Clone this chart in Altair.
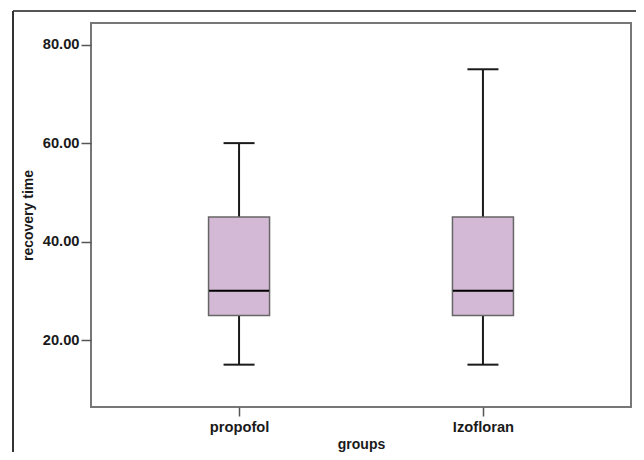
import altair as alt
import pandas as pd

groups = ["propofol", "Izofloran"]
minimum = [15, 15]
q1 = [25, 25]
median = [30, 30]
q3 = [45, 45]
maximum = [60, 75]
y_ticks = [20, 40, 60, 80]

df = pd.DataFrame({
    "group": groups, "min": minimum, "q1": q1,
    "median": median, "q3": q3, "max": maximum,
})

FONT = "Liberation Sans"
xscale = alt.Scale(type="point", padding=0.607, domain=groups)
yscale = alt.Scale(domain=[6.4, 84.4], nice=False, zero=False)

x_enc = alt.X("group:N", scale=xscale, sort=groups,
              axis=alt.Axis(title="groups", labelAngle=0, tickSize=9, labelPadding=3,
                            domain=False, tickColor="#555", tickWidth=1.5,
                            titleY=37, titleBaseline="middle"))
y_axis = alt.Axis(title="recovery time", values=y_ticks, format=".2f", tickSize=10,
                  labelPadding=2, domain=False, grid=False, tickColor="#555", tickWidth=1.5,
                  titleX=-63, titleY=192, titleAngle=270, titleAlign="center",
                  titleBaseline="middle")

base = alt.Chart(df)

whisker = base.mark_rule(color="#1a1a1a", strokeWidth=2).encode(
    x=x_enc,
    y=alt.Y("min:Q", scale=yscale, axis=y_axis),
    y2="max:Q",
)
box = base.mark_bar(size=61, fill="#D4B9D6", stroke="#666", strokeWidth=1.5).encode(
    x=x_enc, y=alt.Y("q1:Q", scale=yscale), y2="q3:Q"
)
med = base.mark_tick(size=60, thickness=2, color="#000", opacity=1).encode(
    x=x_enc, y=alt.Y("median:Q", scale=yscale)
)
cap_lo = base.mark_tick(size=31, thickness=2, color="#1a1a1a", opacity=1).encode(
    x=x_enc, y=alt.Y("min:Q", scale=yscale)
)
cap_hi = base.mark_tick(size=31, thickness=2, color="#1a1a1a", opacity=1).encode(
    x=x_enc, y=alt.Y("max:Q", scale=yscale)
)

frame_data = alt.Data(values=[{"k": 1}])
frame_top = alt.Chart(frame_data).mark_rule(color="#555", strokeWidth=2).encode(
    x=alt.value(-78), x2=alt.value(560), y=alt.value(-12)
)
frame_left = alt.Chart(frame_data).mark_rule(color="#333", strokeWidth=2).encode(
    x=alt.value(-78), y=alt.value(-12), y2=alt.value(440)
)

chart = alt.layer(frame_top, frame_left, whisker, box, med, cap_lo, cap_hi).properties(
    width=540, height=384,
    autosize=alt.AutoSizeParams(type="none"),
    padding={"left": 83, "top": 15, "right": 5, "bottom": 45},
).configure_view(stroke="#777", strokeWidth=2).configure_axis(
    labelFont=FONT, labelFontWeight="bold", labelFontSize=14.7, labelColor="#1a1a1a",
    titleFont=FONT, titleFontWeight="bold", titleFontSize=14, titleColor="#1a1a1a",
)

chart.save("out.html", embed_options={"renderer": "svg", "actions": False})
